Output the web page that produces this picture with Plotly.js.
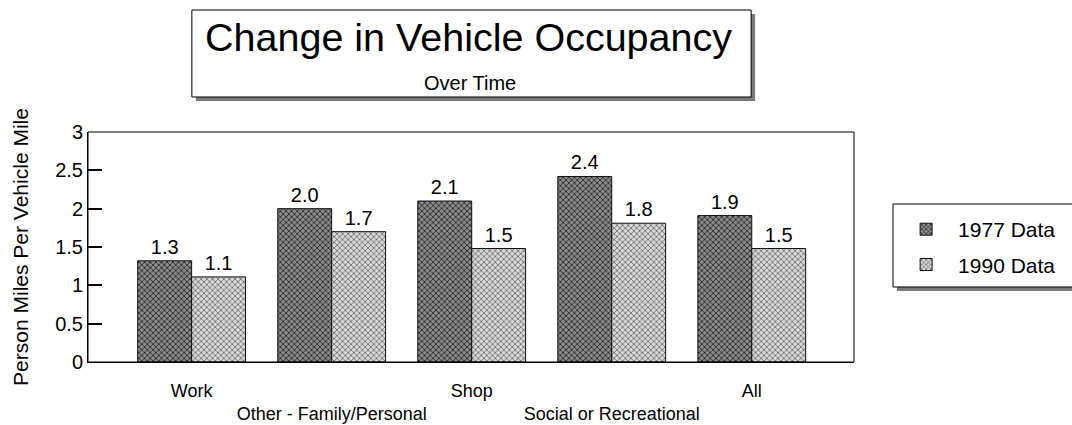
<!DOCTYPE html>
<html>
<head>
<meta charset="utf-8">
<script src="https://cdn.plot.ly/plotly-3.0.1.min.js"></script>
<style>html,body{margin:0;padding:0;background:#fff;}#chart{width:1072px;height:425px;}</style>
</head>
<body>
<div id="chart"></div>
<script>
const categories = ["Work", "Other - Family/Personal", "Shop", "Social or Recreational", "All"];
const tickLabels = ["Work", "<br>Other - Family/Personal", "Shop", "<br>Social or Recreational", "All"];
const values1977 = [1.32, 2.0, 2.1, 2.42, 1.91];
const values1990 = [1.11, 1.7, 1.48, 1.81, 1.48];
const labels1977 = ["1.3", "2.0", "2.1", "2.4", "1.9"];
const labels1990 = ["1.1", "1.7", "1.5", "1.8", "1.5"];
const seriesNames = ["1977 Data", "1990 Data"];
const titleText = "Change in Vehicle Occupancy";
const subtitleText = "Over Time";
const yTitle = "Person Miles Per Vehicle Mile";

const FONT = "Liberation Sans, Arial, sans-serif";

const traces = [
  {
    type: "bar", name: seriesNames[0], legendgroup: "a", x: categories, y: values1977,
    text: labels1977, texttemplate: "%{text}", textposition: "outside",
    textfont: {family: FONT, size: 20, color: "#000"}, cliponaxis: false,
    marker: {color: "#8a8a8a", line: {color: "#111", width: 1},
      pattern: {shape: "x", size: 4, solidity: 0.35, fgcolor: "#1a1a1a", bgcolor: "#8a8a8a"}}
  },
  {
    type: "bar", name: seriesNames[1], legendgroup: "b", x: categories, y: values1990,
    text: labels1990, texttemplate: "%{text}", textposition: "outside",
    textfont: {family: FONT, size: 20, color: "#000"}, cliponaxis: false,
    marker: {color: "#d8d8d8", line: {color: "#111", width: 1},
      pattern: {shape: "x", size: 4, solidity: 0.3, fgcolor: "#4a4a4a", bgcolor: "#d8d8d8"}}
  }
];

const layout = {
  width: 1072, height: 425,
  margin: {l: 88, r: 217, t: 132, b: 63},
  paper_bgcolor: "#fff", plot_bgcolor: "#fff",
  font: {family: FONT, color: "#000", size: 18},
  barmode: "group", bargap: 0.23, bargroupgap: 0,
  showlegend: true,
  legend: {x: 1.051, y: 0.665, xanchor: "left", yanchor: "top",
    bgcolor: "rgba(0,0,0,0)", borderwidth: 0, itemwidth: 54,
    tracegroupgap: 5, traceorder: "grouped",
    font: {family: FONT, size: 21, color: "#000"}},
  xaxis: {
    type: "category", range: [-0.74, 4.73],
    tickmode: "array", tickvals: categories, ticktext: tickLabels,
    tickfont: {family: FONT, size: 18, color: "#000"}, ticklabelstandoff: 12,
    showline: true, linecolor: "#000", linewidth: 1, mirror: false,
    ticks: "", showgrid: false, zeroline: false
  },
  yaxis: {
    range: [0, 3], dtick: 0.5,
    ticks: "inside", ticklen: 14, tickcolor: "#000", tickwidth: 2,
    tickfont: {family: FONT, size: 20, color: "#000"},
    showline: true, linecolor: "#000", linewidth: 1,
    showgrid: false, zeroline: false,
    title: {text: yTitle, font: {family: FONT, size: 21, color: "#000"}, standoff: 20}
  },
  shapes: [
    {type: "rect", xref: "paper", yref: "paper", x0: 0, x1: 1, y0: 0, y1: 1,
      fillcolor: "rgba(0,0,0,0)", line: {color: "#000", width: 1}, layer: "above"},
    {type: "rect", xref: "paper", yref: "paper", x0: 0.1408, x1: 0.8709, y0: 1.1348, y1: 1.513,
      fillcolor: "#7a7a7a", line: {width: 0}, layer: "above"},
    {type: "rect", xref: "paper", yref: "paper", x0: 0.1356, x1: 0.8657, y0: 1.1522, y1: 1.5304,
      fillcolor: "#fff", line: {color: "#000", width: 1}, layer: "above"},
    {type: "rect", xref: "paper", yref: "paper", x0: 1.056, x1: 1.3, y0: 0.3087, y1: 0.6696,
      fillcolor: "#7a7a7a", line: {width: 0}, layer: "below"},
    {type: "rect", xref: "paper", yref: "paper", x0: 1.0509, x1: 1.3, y0: 0.3261, y1: 0.687,
      fillcolor: "#fff", line: {color: "#000", width: 1}, layer: "below"}
  ],
  annotations: [
    {text: titleText, xref: "paper", yref: "paper", x: 0.4967, y: 1.413,
      xanchor: "center", yanchor: "middle", showarrow: false,
      font: {family: FONT, size: 39.5, color: "#000"}},
    {text: subtitleText, xref: "paper", yref: "paper", x: 0.499, y: 1.213,
      xanchor: "center", yanchor: "middle", showarrow: false,
      font: {family: FONT, size: 20, color: "#000"}}
  ]
};

Plotly.newPlot("chart", traces, layout, {displayModeBar: false, staticPlot: true});
</script>
</body>
</html>
